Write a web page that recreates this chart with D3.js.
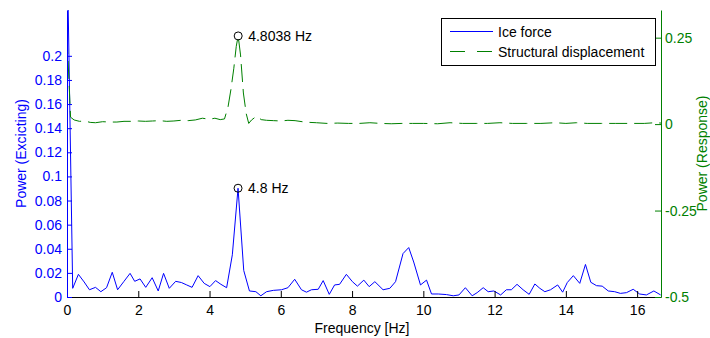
<!DOCTYPE html>
<html>
<head>
<meta charset="utf-8">
<script src="https://cdn.jsdelivr.net/npm/d3@7"></script>
<style>
  body { margin: 0; background: #fff; }
  svg { display: block; font-family: "Liberation Sans", Arial, sans-serif; }
</style>
</head>
<body>
<div id="chart"></div>
<script>
// Ice force spectrum (left axis)
const iceFreq = [
  0, 0.16, 0.32, 0.48, 0.63, 0.8, 0.95, 1.11, 1.27, 1.42,
  1.6, 1.77, 1.9, 2.05, 2.21, 2.39, 2.56, 2.71, 2.87, 3.05,
  3.21, 3.36, 3.51, 3.68, 3.85, 4.01, 4.17, 4.32, 4.48, 4.64,
  4.8, 4.96, 5.12, 5.3, 5.44, 5.6, 5.79, 6.02, 6.2, 6.39,
  6.58, 6.72, 6.86, 7.05, 7.19, 7.36, 7.51, 7.65, 7.84, 8.01,
  8.15, 8.33, 8.48, 8.64, 8.87, 9.06, 9.22, 9.43, 9.59, 9.73,
  9.92, 10.09, 10.23, 10.42, 10.65, 10.84, 11.0, 11.18, 11.37, 11.51,
  11.68, 11.82, 11.98, 12.17, 12.33, 12.47, 12.63, 12.8, 12.97, 13.13,
  13.27, 13.41, 13.57, 13.77, 13.91, 14.04, 14.21, 14.39, 14.55, 14.7,
  14.86, 15.02, 15.19, 15.37, 15.53, 15.7, 15.89, 16.07, 16.26, 16.47,
  16.66
];
const iceForce = [
  0.3, 0.0072, 0.0188, 0.0125, 0.006, 0.008, 0.0044, 0.0077, 0.0205, 0.006,
  0.013, 0.0196, 0.013, 0.015, 0.008, 0.016, 0.005, 0.0196, 0.0072, 0.013,
  0.012, 0.010, 0.008, 0.0177, 0.0113, 0.0086, 0.0136, 0.0105, 0.0077, 0.035,
  0.0902, 0.022, 0.005, 0.0044, 0.001, 0.0044, 0.0055, 0.006, 0.0077, 0.0147,
  0.006, 0.004, 0.006, 0.0064, 0.0136, 0.0022, 0.01, 0.0105, 0.0188, 0.0127,
  0.009, 0.014, 0.0086, 0.0127, 0.006, 0.0072, 0.0127, 0.036, 0.041, 0.029,
  0.01, 0.014, 0.0025, 0.0025, 0.002, 0.001, 0.0017, 0.0077, 0.001, 0.0036,
  0.0077, 0.0044, 0.005, 0.0017, 0.006, 0.006, 0.0105, 0.006, 0.0022, 0.0108,
  0.0072, 0.0044, 0.006, 0.01, 0.004, 0.012, 0.0177, 0.0113, 0.027, 0.0122,
  0.0094, 0.009, 0.005, 0.0044, 0.003, 0.0036, 0.0064, 0.0025, 0.0017, 0.005,
  0.0017
];

// Structural displacement spectrum (right axis)
const dispFreq = [
  0, 0.1, 0.2, 0.35, 0.5, 0.65, 0.8, 1.0, 1.2, 1.4,
  1.6, 1.8, 2.0, 2.2, 2.4, 2.6, 2.8, 3.0, 3.2, 3.4,
  3.6, 3.8, 4.0, 4.15, 4.3, 4.42, 4.52, 4.6, 4.68, 4.75,
  4.8038, 4.87, 4.95, 5.03, 5.1, 5.18, 5.32, 5.45, 5.6, 5.8,
  6.0, 6.2, 6.4, 6.6, 6.8, 7.0, 7.3, 7.6, 7.9, 8.2,
  8.5, 8.8, 9.1, 9.4, 9.7, 10.0, 10.4, 10.75, 11.1, 11.5,
  11.8, 12.15, 12.5, 12.9, 13.3, 13.7, 14.0, 14.3, 14.6, 15.0,
  15.4, 15.8, 16.2, 16.5, 16.67
];
const dispResp = [
  0.255, 0.02, 0.012, 0.008, 0.009, 0.005, 0.004, 0.007, 0.006, 0.006,
  0.008, 0.008, 0.009, 0.008, 0.009, 0.010, 0.008, 0.009, 0.011, 0.010,
  0.012, 0.017, 0.014, 0.017, 0.013, 0.015, 0.05, 0.1, 0.16, 0.225,
  0.255, 0.2, 0.09, 0.03, 0.002, 0.012, 0.023, 0.013, 0.011, 0.010,
  0.009, 0.011, 0.010, 0.007, 0.005, 0.004, 0.002, 0.003, 0.002, 0.002,
  0.004, 0.002, 0.001, 0.002, 0.002, 0.002, 0.001, 0.004, 0.002, 0.002,
  0.002, 0.004, 0.002, 0.002, 0.002, 0.004, 0.002, 0.004, 0.002, 0.002,
  0.002, 0.002, 0.002, 0.004, 0.003
];

const xTicks = [0, 2, 4, 6, 8, 10, 12, 14, 16];
const leftTicks = [0, 0.02, 0.04, 0.06, 0.08, 0.1, 0.12, 0.14, 0.16, 0.18, 0.2];
const rightTicks = [-0.5, -0.25, 0, 0.25];

// peak markers: [freq, value, label]
const icePeak = [4.8, 0.0902, "4.8 Hz"];
const dispPeak = [4.8038, 0.255, "4.8038 Hz"];

const W = 710, H = 338;
const plot = { left: 67, right: 661, top: 10, bottom: 297 };
const BLUE = "#0000ff", GREEN = "#008000";

const svg = d3.select("#chart").append("svg")
  .attr("width", W).attr("height", H);

const x = d3.scaleLinear().domain([0, 16.67]).range([plot.left, plot.right]);
const yL = d3.scaleLinear().domain([0, 0.238]).range([plot.bottom, plot.top]);
const yR = d3.scaleLinear().domain([-0.5, 0.33]).range([plot.bottom, plot.top]);

svg.append("defs").append("clipPath").attr("id", "plot-clip")
  .append("rect")
  .attr("x", plot.left).attr("y", plot.top)
  .attr("width", plot.right - plot.left)
  .attr("height", plot.bottom - plot.top);

// lines
const iceData = iceFreq.map((f, i) => ({ f, v: iceForce[i] }));
const dispData = dispFreq.map((f, i) => ({ f, v: dispResp[i] }));

const lineG = svg.append("g").attr("clip-path", "url(#plot-clip)");
lineG.append("path")
  .datum(iceData)
  .attr("fill", "none").attr("stroke", BLUE).attr("stroke-width", 1)
  .attr("d", d3.line().x(d => x(d.f)).y(d => yL(d.v)));
lineG.append("path")
  .datum(dispData)
  .attr("fill", "none").attr("stroke", GREEN).attr("stroke-width", 1)
  .attr("stroke-dasharray", "18,7")
  .attr("d", d3.line().x(d => x(d.f)).y(d => yR(d.v)));

// axes (MATLAB style: ticks pointing inward)
const fmt = d => String(+d.toFixed(2));
const styleAxis = (sel, color) => {
  sel.selectAll(".domain").attr("stroke", color);
  sel.selectAll(".tick line").attr("stroke", color);
  sel.selectAll("text").attr("fill", color).style("font-size", "14px")
    .style("font-family", '"Liberation Sans", Arial, sans-serif');
};

svg.append("g")
  .attr("transform", `translate(0,${plot.bottom})`)
  .call(d3.axisBottom(x).tickValues(xTicks).tickFormat(fmt)
    .tickSizeInner(-6).tickSizeOuter(0).tickPadding(8))
  .call(sel => styleAxis(sel, "#000"));

svg.append("g")
  .attr("transform", `translate(${plot.left},0)`)
  .call(d3.axisLeft(yL).tickValues(leftTicks).tickFormat(fmt)
    .tickSizeInner(-5).tickSizeOuter(0).tickPadding(5))
  .call(sel => styleAxis(sel, BLUE));

svg.append("g")
  .attr("transform", `translate(${plot.right},0)`)
  .call(d3.axisRight(yR).tickValues(rightTicks).tickFormat(fmt)
    .tickSizeInner(-6).tickSizeOuter(0).tickPadding(4))
  .call(sel => styleAxis(sel, GREEN));

// axis labels
svg.append("text")
  .attr("x", (plot.left + plot.right) / 2 - 2).attr("y", 333)
  .attr("text-anchor", "middle").style("font-size", "14px").attr("fill", "#000")
  .text("Frequency [Hz]");

svg.append("text")
  .attr("transform", `translate(25.5,${(plot.top + plot.bottom) / 2}) rotate(-90)`)
  .attr("text-anchor", "middle").style("font-size", "14px").attr("fill", BLUE)
  .text("Power (Excicting)");

// the reference crops this label at the right edge; keep it just inside
svg.append("text")
  .attr("transform", `translate(707,${(plot.top + plot.bottom) / 2}) rotate(-90)`)
  .attr("text-anchor", "middle").style("font-size", "14px").attr("fill", GREEN)
  .text("Power (Response)");

// peak markers
const peaks = [
  { p: icePeak, y: yL },
  { p: dispPeak, y: yR }
];
peaks.forEach(({ p, y }) => {
  const cx = x(p[0]), cy = y(p[1]);
  svg.append("circle")
    .attr("cx", cx).attr("cy", cy).attr("r", 4)
    .attr("fill", "none").attr("stroke", "#000").attr("stroke-width", 1);
  svg.append("text")
    .attr("x", cx + 10).attr("y", cy + 5)
    .style("font-size", "14px").attr("fill", "#000")
    .text(p[2]);
});

// legend
const legend = svg.append("g").attr("transform", "translate(441.5,18.5)");
legend.append("rect")
  .attr("width", 214).attr("height", 47)
  .attr("fill", "#fff").attr("stroke", "#000").attr("stroke-width", 1);
const legendItems = [
  { label: "Ice force", color: BLUE, dash: null },
  { label: "Structural displacement", color: GREEN, dash: "15,12" }
];
legendItems.forEach((it, i) => {
  const yy = 13 + i * 20;
  legend.append("line")
    .attr("x1", 8.5).attr("x2", 51.5).attr("y1", yy).attr("y2", yy)
    .attr("stroke", it.color).attr("stroke-width", 1)
    .attr("stroke-dasharray", it.dash);
  legend.append("text")
    .attr("x", 56.5).attr("y", yy + 5)
    .style("font-size", "14px").attr("fill", "#000")
    .text(it.label);
});
</script>
</body>
</html>
